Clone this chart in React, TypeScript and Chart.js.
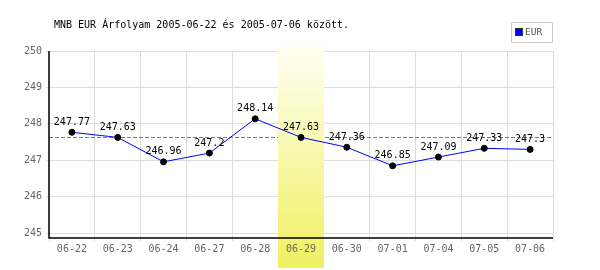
import React, { useEffect, useRef } from "react";
import { Chart, registerables } from "chart.js";

Chart.register(...registerables);

const categories = ["06-22", "06-23", "06-24", "06-27", "06-28", "06-29", "06-30", "07-01", "07-04", "07-05", "07-06"];
const eurValues = [247.77, 247.63, 246.96, 247.2, 248.14, 247.63, 247.36, 246.85, 247.09, 247.33, 247.3];
const valueLabels = ["247.77", "247.63", "246.96", "247.2", "248.14", "247.63", "247.36", "246.85", "247.09", "247.33", "247.3"];
const yTicks = [245, 246, 247, 248, 249, 250];
const referenceValue = 247.63;
const highlightIndex = 5;
const titleText = "MNB EUR Árfolyam 2005-06-22 és 2005-07-06 között.";
const seriesName = "EUR";

const MONO = "'DejaVu Sans Mono', monospace";

export default function App() {
  const ref = useRef<HTMLCanvasElement>(null);

  useEffect(() => {
    const canvas = ref.current!;
    const decor = {
      id: "decor",
      beforeDatasetsDraw(chart: any) {
        const { ctx, chartArea } = chart;
        const xs = chart.scales.x;
        const ys = chart.scales.y;
        ctx.save();
        // reference dashed line
        const ry = Math.round(ys.getPixelForValue(referenceValue)) + 0.5;
        ctx.strokeStyle = "#6a6aff";
        ctx.lineWidth = 1;
        ctx.setLineDash([4, 2]);
        ctx.beginPath();
        ctx.moveTo(chartArea.left, ry);
        ctx.lineTo(chartArea.right, ry);
        ctx.stroke();
        ctx.setLineDash([]);
        // highlight band
        const cx = xs.getPixelForValue(highlightIndex);
        const half = (chartArea.right - chartArea.left) / categories.length / 2;
        const top = 45;
        const bottom = 268;
        const g = ctx.createLinearGradient(0, top, 0, bottom);
        g.addColorStop(0, "#fffff4");
        g.addColorStop(1, "#f0f060");
        ctx.fillStyle = g;
        ctx.fillRect(Math.round(cx - half), top, Math.round(2 * half), bottom - top);
        // label of the highlighted category, redrawn above the band
        const items = xs.getLabelItems ? xs.getLabelItems() : [];
        const item = items[highlightIndex];
        if (item) {
          const o = item.options;
          ctx.save();
          ctx.translate(o.translation[0], o.translation[1]);
          ctx.font = item.font.string;
          ctx.fillStyle = "#666";
          ctx.textAlign = o.textAlign;
          ctx.textBaseline = o.textBaseline;
          ctx.fillText(String(item.label), 0, item.textOffset);
          ctx.restore();
        }
        // axis lines
        ctx.strokeStyle = "#000";
        ctx.lineWidth = 1.5;
        ctx.beginPath();
        ctx.moveTo(chartArea.left, chartArea.top);
        ctx.lineTo(chartArea.left, chartArea.bottom);
        ctx.lineTo(chartArea.right, chartArea.bottom);
        ctx.stroke();
        ctx.restore();
      },
      afterDatasetsDraw(chart: any) {
        const { ctx } = chart;
        const meta = chart.getDatasetMeta(0);
        ctx.save();
        ctx.font = `10px ${MONO}`;
        ctx.fillStyle = "#000";
        ctx.textAlign = "center";
        ctx.textBaseline = "middle";
        meta.data.forEach((pt: any, i: number) => {
          ctx.fillText(valueLabels[i], pt.x, pt.y - 10);
        });
        ctx.restore();
      },
      afterDraw(chart: any) {
        const { ctx } = chart;
        ctx.save();
        ctx.font = `10px ${MONO}`;
        ctx.fillStyle = "#000";
        ctx.textAlign = "left";
        ctx.textBaseline = "middle";
        ctx.fillText(titleText, 54, 25);
        // legend
        ctx.strokeStyle = "#cccccc";
        ctx.lineWidth = 1;
        ctx.strokeRect(511.5, 22.5, 41, 20);
        ctx.fillStyle = "#0000ff";
        ctx.fillRect(516, 29, 6, 6);
        ctx.strokeStyle = "#333";
        ctx.strokeRect(515.5, 28.5, 7, 7);
        ctx.fillStyle = "#555";
        ctx.font = `9.5px ${MONO}`;
        ctx.fillText(seriesName, 525, 32.5);
        ctx.restore();
      },
    };

    const chart = new Chart(canvas, {
      type: "line",
      data: {
        labels: categories,
        datasets: [
          {
            label: seriesName,
            data: eurValues,
            borderColor: "#0000ff",
            borderWidth: 1,
            pointRadius: 3,
            pointBackgroundColor: "#000",
            pointBorderColor: "#000",
            pointBorderWidth: 1,
            tension: 0,
            fill: false,
          },
        ],
      },
      options: {
        responsive: false,
        animation: false,
        layout: { padding: { top: 51, right: 47, left: 0, bottom: 0 } },
        plugins: {
          legend: { display: false },
          title: { display: false },
          tooltip: { enabled: false },
        },
        scales: {
          x: {
            type: "category",
            offset: true,
            grid: { offset: true, color: "#dddddd", lineWidth: 1, tickLength: 3, drawTicks: true },
            border: { display: false },
            ticks: { color: "#666", font: { family: MONO, size: 10 }, padding: 2, maxRotation: 0, autoSkip: false },
            afterFit(scale: any) {
              scale.height = 32;
            },
          },
          y: {
            type: "linear",
            min: 244.87,
            max: 250,
            grid: { color: "#dddddd", lineWidth: 1, tickLength: 3 },
            border: { display: false },
            ticks: { color: "#666", font: { family: MONO, size: 10 }, padding: 4 },
            afterBuildTicks(scale: any) {
              scale.ticks = yTicks.map((v) => ({ value: v }));
            },
            afterFit(scale: any) {
              scale.width = 49;
            },
          },
        },
      },
      plugins: [decor],
    } as any);
    return () => chart.destroy();
  }, []);

  return (
    <div style={{ position: "fixed", left: 0, top: 0, width: 600, height: 270, background: "#fff" }}>
      <canvas ref={ref} width={600} height={270} style={{ width: 600, height: 270, display: "block" }} />
    </div>
  );
}
